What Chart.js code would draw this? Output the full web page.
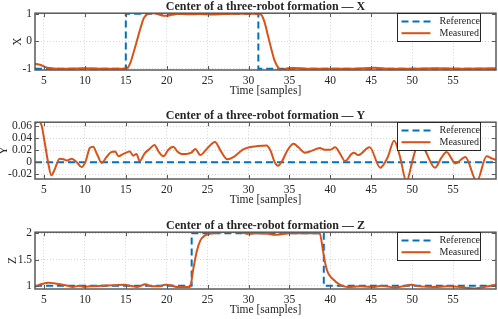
<!DOCTYPE html>
<html>
<head>
<meta charset="utf-8">
<script src="https://cdn.jsdelivr.net/npm/chart.js@4.4.1/dist/chart.umd.min.js"></script>
<style>
  html, body { margin: 0; padding: 0; background: #fff; }
  .panel { position: absolute; left: 0; width: 498px; height: 100px; }
</style>
</head>
<body>
<div class="panel" style="top:0"><canvas id="cx" width="498" height="100"></canvas></div>
<div class="panel" style="top:109px"><canvas id="cy" width="498" height="100"></canvas></div>
<div class="panel" style="top:219px"><canvas id="cz" width="498" height="100"></canvas></div>
<script>
// Zeitachse (Samples) und Tick-Beschriftungen
var xTicks = [5, 10, 15, 20, 25, 30, 35, 40, 45, 50, 55];
var xMin = 3.9, xMax = 60.25;

// X-Komponente
var refXT = [3.9, 15, 15, 31.2, 31.2, 60.25];
var refX  = [-1, -1, 1, 1, -1, -1];
var measXT = [3.9, 4.5, 5.4, 6.5, 8, 10, 12, 14.6, 15.2, 15.6, 16.0, 16.4, 16.8, 17.2, 17.7, 18.2, 18.8, 19.4, 20.0, 20.6, 21.4, 22.8, 24, 25.5, 27, 29, 31.2, 31.6, 32.0, 32.4, 32.8, 33.2, 33.7, 34.1, 34.8, 35.5, 37, 40, 43, 45.4, 47, 50, 53, 56, 60.25];
var measX  = [-0.82, -0.86, -0.97, -1.0, -1.0, -0.99, -1.0, -1.0, -0.97, -0.75, -0.36, 0.06, 0.48, 0.84, 1.0, 1.03, 1.0, 0.94, 0.93, 0.96, 1.0, 0.98, 0.99, 0.97, 0.99, 1.0, 1.0, 0.95, 0.65, 0.17, -0.30, -0.72, -0.99, -1.04, -0.99, -0.98, -1.0, -1.0, -1.0, -0.97, -1.0, -1.0, -0.99, -1.0, -0.99];
var yTicksX = [-1, 0, 1];

// Y-Komponente
var refYT = [3.9, 60.25];
var refY  = [0, 0];
var measYT = [3.9, 4.3, 4.7, 5.1, 5.5, 5.9, 6.3, 6.9, 7.4, 7.8, 8.4, 9.0, 9.6, 10.1, 10.6, 11.0, 11.5, 12.05, 12.6, 13.1, 13.7, 14.1, 14.7, 15.5, 15.9, 16.3, 16.7, 17.3, 17.9, 18.5, 19.0, 19.6, 20.2, 20.8, 21.3, 21.8, 22.4, 23.0, 23.5, 24.1, 25.0, 25.9, 26.6, 27.4, 28.2, 29.3, 30.1, 31.1, 32.2, 32.7, 33.2, 33.6, 34.1, 34.8, 35.5, 36.1, 36.9, 37.7, 38.7, 39.3, 40.0, 40.6, 41.2, 41.8, 42.6, 42.9, 43.4, 44.8, 46.1, 47.0, 47.8, 48.5, 49.3, 50.1, 50.8, 51.5, 52.8, 53.6, 54.2, 55.3, 56.5, 57.9, 59.1, 59.8, 60.25];
var measY  = [0.065, 0.068, 0.062, 0.032, 0.0, -0.022, -0.012, 0.006, 0.005, 0.003, 0.006, 0.0, -0.008, 0.002, 0.024, 0.026, 0.013, -0.001, 0.008, 0.016, 0.018, 0.010, 0.014, 0.018, 0.011, 0.014, 0.002, 0.015, 0.022, 0.029, 0.018, 0.010, 0.021, 0.026, 0.018, 0.014, 0.014, 0.016, 0.022, 0.012, 0.024, 0.034, 0.019, 0.005, 0.009, 0.021, 0.025, 0.027, 0.028, 0.019, 0.0, -0.006, 0.002, 0.021, 0.031, 0.025, 0.016, 0.019, 0.024, 0.021, 0.021, 0.025, 0.014, 0.002, 0.014, 0.016, 0.012, 0.025, -0.009, 0.008, 0.036, 0.010, -0.032, 0.006, 0.034, 0.022, -0.009, 0.008, 0.017, -0.002, 0.009, -0.032, 0.010, 0.006, 0.004];
var yTicksY = [-0.02, 0, 0.02, 0.04, 0.06];

// Z-Komponente
var refZT = [3.9, 23.05, 23.05, 39.2, 39.2, 60.25];
var refZ  = [1, 1, 2, 2, 1, 1];
var measZT = [3.9, 4.6, 5.5, 6.2, 7.0, 7.9, 8.5, 9.3, 9.9, 10.7, 12, 13.5, 14.8, 15.6, 16.4, 17.4, 18.2, 19.0, 19.8, 20.5, 21.2, 22.3, 22.85, 23.25, 23.7, 24.1, 24.7, 25.7, 27.3, 29, 30, 31.2, 32.4, 33.2, 34, 35, 36.8, 38.7, 39.1, 39.4, 39.7, 40.3, 41.1, 42.1, 43.7, 45.4, 46.2, 47.8, 48.8, 49.8, 51.0, 52.7, 54.3, 55.9, 57.6, 58.8, 60.25];
var measZ  = [0.98, 1.03, 1.06, 1.05, 1.03, 1.0, 0.98, 1.0, 0.98, 0.99, 1.0, 1.01, 1.02, 1.0, 0.98, 1.03, 0.99, 0.99, 1.02, 1.01, 0.98, 0.98, 0.98, 1.32, 1.67, 1.86, 1.96, 2.0, 2.03, 2.02, 1.99, 2.0, 1.99, 1.97, 1.98, 2.0, 2.0, 2.0, 1.67, 1.41, 1.25, 1.13, 1.03, 0.98, 0.99, 0.98, 1.0, 0.97, 0.99, 1.02, 0.99, 0.98, 0.99, 0.98, 0.95, 0.98, 1.02];
var yTicksZ = [1, 1.5, 2];

var FONT = '"Liberation Serif", "Times New Roman", serif';
var INK = '#262626';
var BLUE = '#0072BD';
var ORANGE = '#D95319';
var GRID = '#d4d4d4';

function pts(t, v) { return t.map(function (x, i) { return { x: x, y: v[i] }; }); }

// Achsenrahmen mit nach innen zeigenden Ticks + Legende oben rechts (MATLAB-Stil)
var matlabPlugin = {
  id: 'matlab',
  afterDraw: function (chart) {
    var ctx = chart.ctx, a = chart.chartArea;
    var sx = chart.scales.x, sy = chart.scales.y;
    ctx.save();
    ctx.strokeStyle = '#5a5a5a';
    ctx.lineWidth = 1;
    sx.ticks.forEach(function (t) {
      var p = Math.round(sx.getPixelForValue(t.value)) + 0.5;
      ctx.beginPath();
      ctx.moveTo(p, a.top); ctx.lineTo(p, a.top + 4);
      ctx.moveTo(p, a.bottom); ctx.lineTo(p, a.bottom - 4);
      ctx.stroke();
    });
    sy.ticks.forEach(function (t) {
      var p = Math.round(sy.getPixelForValue(t.value)) + 0.5;
      ctx.beginPath();
      ctx.moveTo(a.left, p); ctx.lineTo(a.left + 4, p);
      ctx.moveTo(a.right, p); ctx.lineTo(a.right - 4, p);
      ctx.stroke();
    });
    ctx.lineWidth = 1.5;
    ctx.strokeRect(a.left, a.top, a.right - a.left, a.bottom - a.top);

    // Legende
    var w = 83, h = 28;
    var lx = Math.round(a.right - 16 - w) + 0.5, ly = Math.round(a.top) + 0.5;
    ctx.fillStyle = '#fff';
    ctx.fillRect(lx, ly, w, h);
    ctx.strokeStyle = INK;
    ctx.lineWidth = 1;
    ctx.strokeRect(lx, ly, w, h);
    var rows = [chart.data.datasets[0], chart.data.datasets[1]];
    ctx.font = '10px ' + FONT;
    ctx.textBaseline = 'middle';
    rows.forEach(function (ds, i) {
      var cy = ly + 8 + i * 11.7;
      ctx.strokeStyle = ds.borderColor;
      ctx.lineWidth = ds.borderWidth;
      ctx.setLineDash(ds.borderDash || []);
      ctx.beginPath();
      ctx.moveTo(lx + 4, cy); ctx.lineTo(lx + 33, cy);
      ctx.stroke();
      ctx.setLineDash([]);
      ctx.fillStyle = INK;
      ctx.fillText(ds.label, lx + 42, cy);
    });
    ctx.restore();
  }
};

function makeChart(id, title, yName, yPad, yMin, yMax, yTicks, refT, refV, t, v) {
  return new Chart(document.getElementById(id), {
    type: 'line',
    data: {
      datasets: [
        { label: 'Reference', data: pts(refT, refV), borderColor: BLUE, borderWidth: 2, borderDash: [7, 4],
          pointRadius: 0, tension: 0, order: 1 },
        { label: 'Measured', data: pts(t, v), borderColor: ORANGE, borderWidth: 2,
          pointRadius: 0, cubicInterpolationMode: 'monotone', order: 0 },
      ],
    },
    options: {
      responsive: false, animation: false,
      layout: { padding: { left: 0, right: 2, top: 0, bottom: 0 } },
      plugins: {
        legend: { display: false }, tooltip: { enabled: false },
        // fullSize: false -> Titel über der Achsenfläche zentriert
        title: { display: true, fullSize: false, text: title, color: INK, padding: { top: 0, bottom: 0 },
                 font: { family: FONT, size: 12, weight: 'bold', lineHeight: 1.1 } },
      },
      scales: {
        x: {
          type: 'linear', min: xMin, max: xMax,
          afterBuildTicks: function (s) { s.ticks = xTicks.map(function (x) { return { value: x }; }); },
          afterFit: function (s) { s.height = 30; },
          grid: { color: GRID, drawTicks: false },
          border: { display: false, dash: [1, 2] },
          ticks: { color: INK, padding: 4, maxRotation: 0, autoSkip: false, font: { family: FONT, size: 11.5 } },
          title: { display: true, text: 'Time [samples]', color: INK, padding: { top: 0, bottom: 2 },
                   font: { family: FONT, size: 11.5 } },
        },
        y: {
          min: yMin, max: yMax,
          afterBuildTicks: function (s) { s.ticks = yTicks.map(function (y) { return { value: y }; }); },
          afterFit: function (s) { s.width = 35; },
          grid: { color: GRID, drawTicks: false },
          border: { display: false, dash: [1, 2] },
          ticks: { color: INK, padding: 3, autoSkip: false, font: { family: FONT, size: 11.5 },
                   callback: function (val) { return String(Math.round(val * 1000) / 1000); } },
          title: { display: true, text: yName, color: INK, padding: { top: yPad, bottom: 0 },
                   font: { family: FONT, size: 11.5 } },
        },
      },
    },
    plugins: [matlabPlugin],
  });
}

makeChart('cx', 'Center of a three-robot formation \u2014 X', 'X', 11, -1.05, 1.02, yTicksX, refXT, refX, measXT, measX);
makeChart('cy', 'Center of a three-robot formation \u2014 Y', 'Y', -3, -0.028, 0.067, yTicksY, refYT, refY, measYT, measY);
makeChart('cz', 'Center of a three-robot formation \u2014 Z', 'Z', 6, 0.94, 2.02, yTicksZ, refZT, refZ, measZT, measZ);
</script>
</body>
</html>
